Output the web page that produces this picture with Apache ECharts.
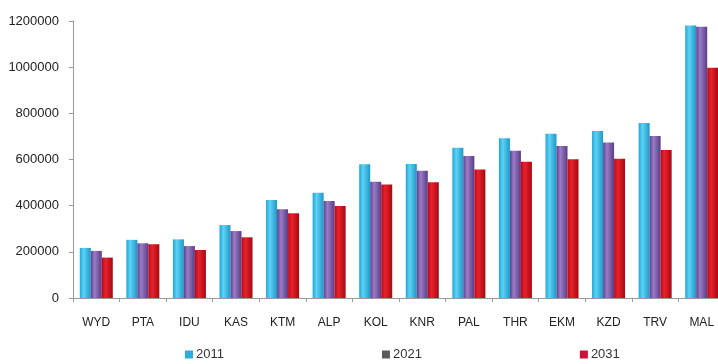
<!DOCTYPE html>
<html>
<head>
<meta charset="utf-8">
<script src="https://cdn.jsdelivr.net/npm/echarts@6/dist/echarts.min.js"></script>
<style>
  html, body { margin: 0; padding: 0; background: #ffffff; }
  #chart { width: 718px; height: 364px; }
</style>
</head>
<body>
<div id="chart"></div>
<script>
// Districts and projected population per census year
const districts = ['WYD', 'PTA', 'IDU', 'KAS', 'KTM', 'ALP', 'KOL', 'KNR', 'PAL', 'THR', 'EKM', 'KZD', 'TRV', 'MAL'];
const pop2011 = [217000, 252000, 254000, 316000, 425000, 456000, 579000, 580000, 651000, 692000, 712000, 723000, 758000, 1181000];
const pop2021 = [204000, 237000, 225000, 290000, 384000, 420000, 504000, 551000, 615000, 638000, 658000, 674000, 702000, 1175000];
const pop2031 = [175000, 233000, 208000, 263000, 367000, 399000, 492000, 501000, 557000, 590000, 601000, 603000, 641000, 998000];
const yTicks = [0, 200000, 400000, 600000, 800000, 1000000, 1200000];

const FONT = '"Liberation Sans", Arial, sans-serif';

function cylinder(dark, light, edge) {
  return new echarts.graphic.LinearGradient(0, 0, 1, 0, [
    { offset: 0, color: dark },
    { offset: 0.35, color: light },
    { offset: 1, color: edge }
  ]);
}

const chart = echarts.init(document.getElementById('chart'), null, { renderer: 'canvas' });

chart.setOption({
  animation: false,
  backgroundColor: '#ffffff',
  textStyle: { fontFamily: FONT },
  // the plot runs slightly past the right edge of the canvas
  grid: { left: 73, top: 21, width: 652, height: 277, containLabel: false, outerBoundsMode: 'none' },
  legend: {
    top: 343,
    left: 180,
    itemWidth: 8,
    itemHeight: 8,
    itemGap: 158,
    icon: 'rect',
    textStyle: { fontFamily: FONT, fontSize: 13, color: '#333333', padding: [0, 0, 0, -2] },
    data: [
      { name: '2011', itemStyle: { color: '#2aaedc' } },
      { name: '2021', itemStyle: { color: '#5a5a5a' } },
      { name: '2031', itemStyle: { color: '#c8103a' } }
    ]
  },
  xAxis: {
    type: 'category',
    data: districts,
    axisLine: { lineStyle: { color: '#9a9a9a', width: 1 } },
    axisTick: { show: true, alignWithLabel: false, length: 4, lineStyle: { color: '#9a9a9a' } },
    axisLabel: { color: '#222222', fontSize: 12, margin: 19, fontFamily: FONT }
  },
  yAxis: {
    type: 'value',
    min: 0,
    max: 1200000,
    interval: 200000,
    axisLine: { show: true, lineStyle: { color: '#9a9a9a', width: 1 } },
    axisTick: { show: true, length: 4, lineStyle: { color: '#9a9a9a' } },
    splitLine: { show: false },
    axisLabel: {
      color: '#222222', fontSize: 13, margin: 14, fontFamily: FONT,
      formatter: v => (yTicks.includes(v) ? String(v) : '')
    }
  },
  series: [
    {
      name: '2011', type: 'bar', data: pop2011, barWidth: 11, barGap: '0%',
      itemStyle: { color: cylinder('#1ea6d8', '#5ed2f4', '#1c98c8') }
    },
    {
      name: '2021', type: 'bar', data: pop2021, barWidth: 11, barGap: '0%',
      itemStyle: { color: cylinder('#5e3f8c', '#9a7cc6', '#5a3c86') }
    },
    {
      name: '2031', type: 'bar', data: pop2031, barWidth: 11, barGap: '0%',
      itemStyle: { color: cylinder('#b80a16', '#e8222c', '#a80812') }
    }
  ]
});
</script>
</body>
</html>
